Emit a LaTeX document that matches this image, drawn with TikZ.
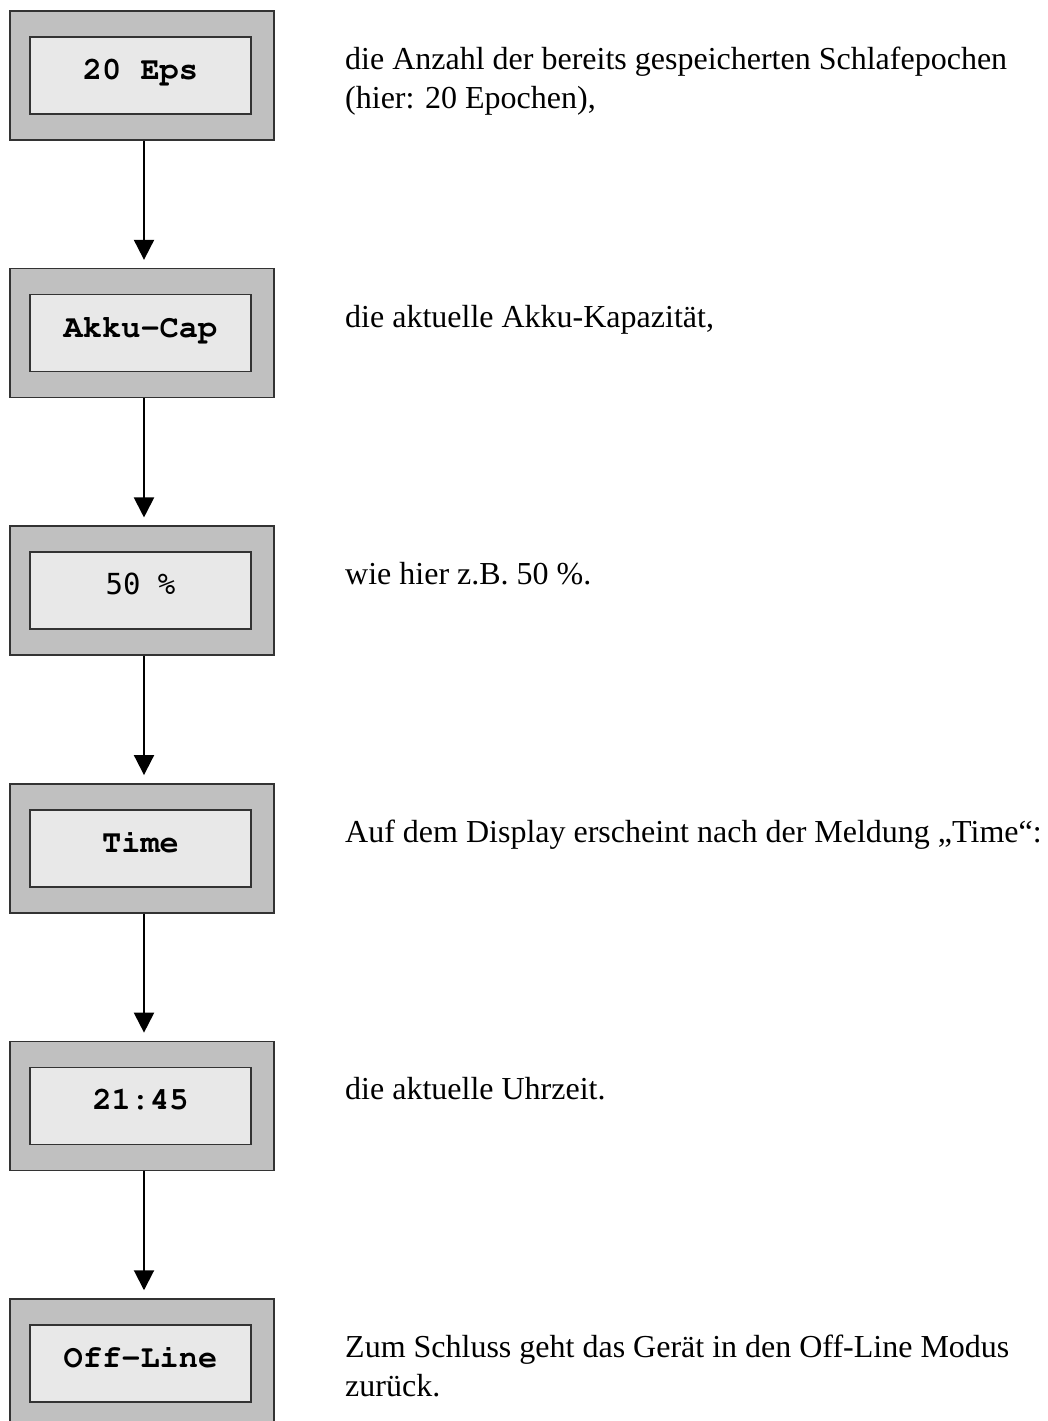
\documentclass[tikz,border=0pt]{standalone}
\usepackage{fontspec}
\setmainfont{Liberation Serif}
\newfontfamily\pctfont{DejaVu Sans Mono}
% Courier-style bold for the display texts
\newcommand{\dispfont}{\fontencoding{T1}\fontfamily{pcr}\fontseries{b}\selectfont}
\usetikzlibrary{arrows.meta}
\definecolor{panelgray}{HTML}{C0C0C0}
\definecolor{screengray}{HTML}{E8E8E8}
\begin{document}
\begin{tikzpicture}[x=1pt,y=-1pt,
  panel/.style={draw=black!80, line width=1.5pt, fill=panelgray,
    minimum width=264pt, minimum height=129pt, inner sep=0pt},
  screen/.style={draw=black!80, line width=1.5pt, fill=screengray,
    minimum width=221pt, minimum height=77pt, inner sep=0pt,
    text height=8pt, text depth=0pt,
    font=\dispfont\fontsize{32}{32}\selectfont},
  note/.style={anchor=base west, inner sep=0pt, font=\fontsize{32}{39}\selectfont},
  flow/.style={line width=2pt, -{Triangle[width=20pt,length=20pt]}, shorten >=8pt}
]
\useasboundingbox (0,0) rectangle (1047,1421);
\clip (0,0) rectangle (1047,1421);

% display panels: grey frame with the light screen inside
\node[panel]  (p1) at (142,75.5) {};
\node[screen] (s1) at (140.5,75.5) {20 Eps};
\node[panel]  (p2) at (142,333.1) {};
\node[screen] (s2) at (140.5,333.1) {Akku-Cap};
\node[panel]  (p3) at (142,590.7) {};
\node[screen, font=\pctfont\fontsize{29}{29}\selectfont] (s3) at (140.5,590.7) {50 \%};
\node[panel]  (p4) at (142,848.3) {};
\node[screen] (s4) at (140.5,848.3) {Time};
\node[panel]  (p5) at (142,1105.9) {};
\node[screen] (s5) at (140.5,1105.9) {21:45};
\node[panel]  (p6) at (142,1363.5) {};
\node[screen] (s6) at (140.5,1363.5) {Off-Line};

% explanations beside each panel
\node[note] (t1a) at (345,69.5)  {die Anzahl der bereits gespeicherten Schlafepochen};
\node[note] (t1b) at (345,108.5) {(hier: 20 Epochen),};
\node[note] (t2)  at (345,327.1) {die aktuelle Akku-Kapazität,};
\node[note] (t3)  at (345,584.7) {wie hier z.B. 50 \%.};
\node[note] (t4)  at (345,842.3) {Auf dem Display erscheint nach der Meldung „Time“:};
\node[note] (t5)  at (345,1099.9) {die aktuelle Uhrzeit.};
\node[note] (t6a) at (345,1357.5) {Zum Schluss geht das Gerät in den Off-Line Modus};
\node[note] (t6b) at (345,1396.5) {zurück.};

% sequence arrows
\draw[flow] ([xshift=2pt]p1.south) -- ([xshift=2pt]p2.north);
\draw[flow] ([xshift=2pt]p2.south) -- ([xshift=2pt]p3.north);
\draw[flow] ([xshift=2pt]p3.south) -- ([xshift=2pt]p4.north);
\draw[flow] ([xshift=2pt]p4.south) -- ([xshift=2pt]p5.north);
\draw[flow] ([xshift=2pt]p5.south) -- ([xshift=2pt]p6.north);
\end{tikzpicture}
\end{document}
